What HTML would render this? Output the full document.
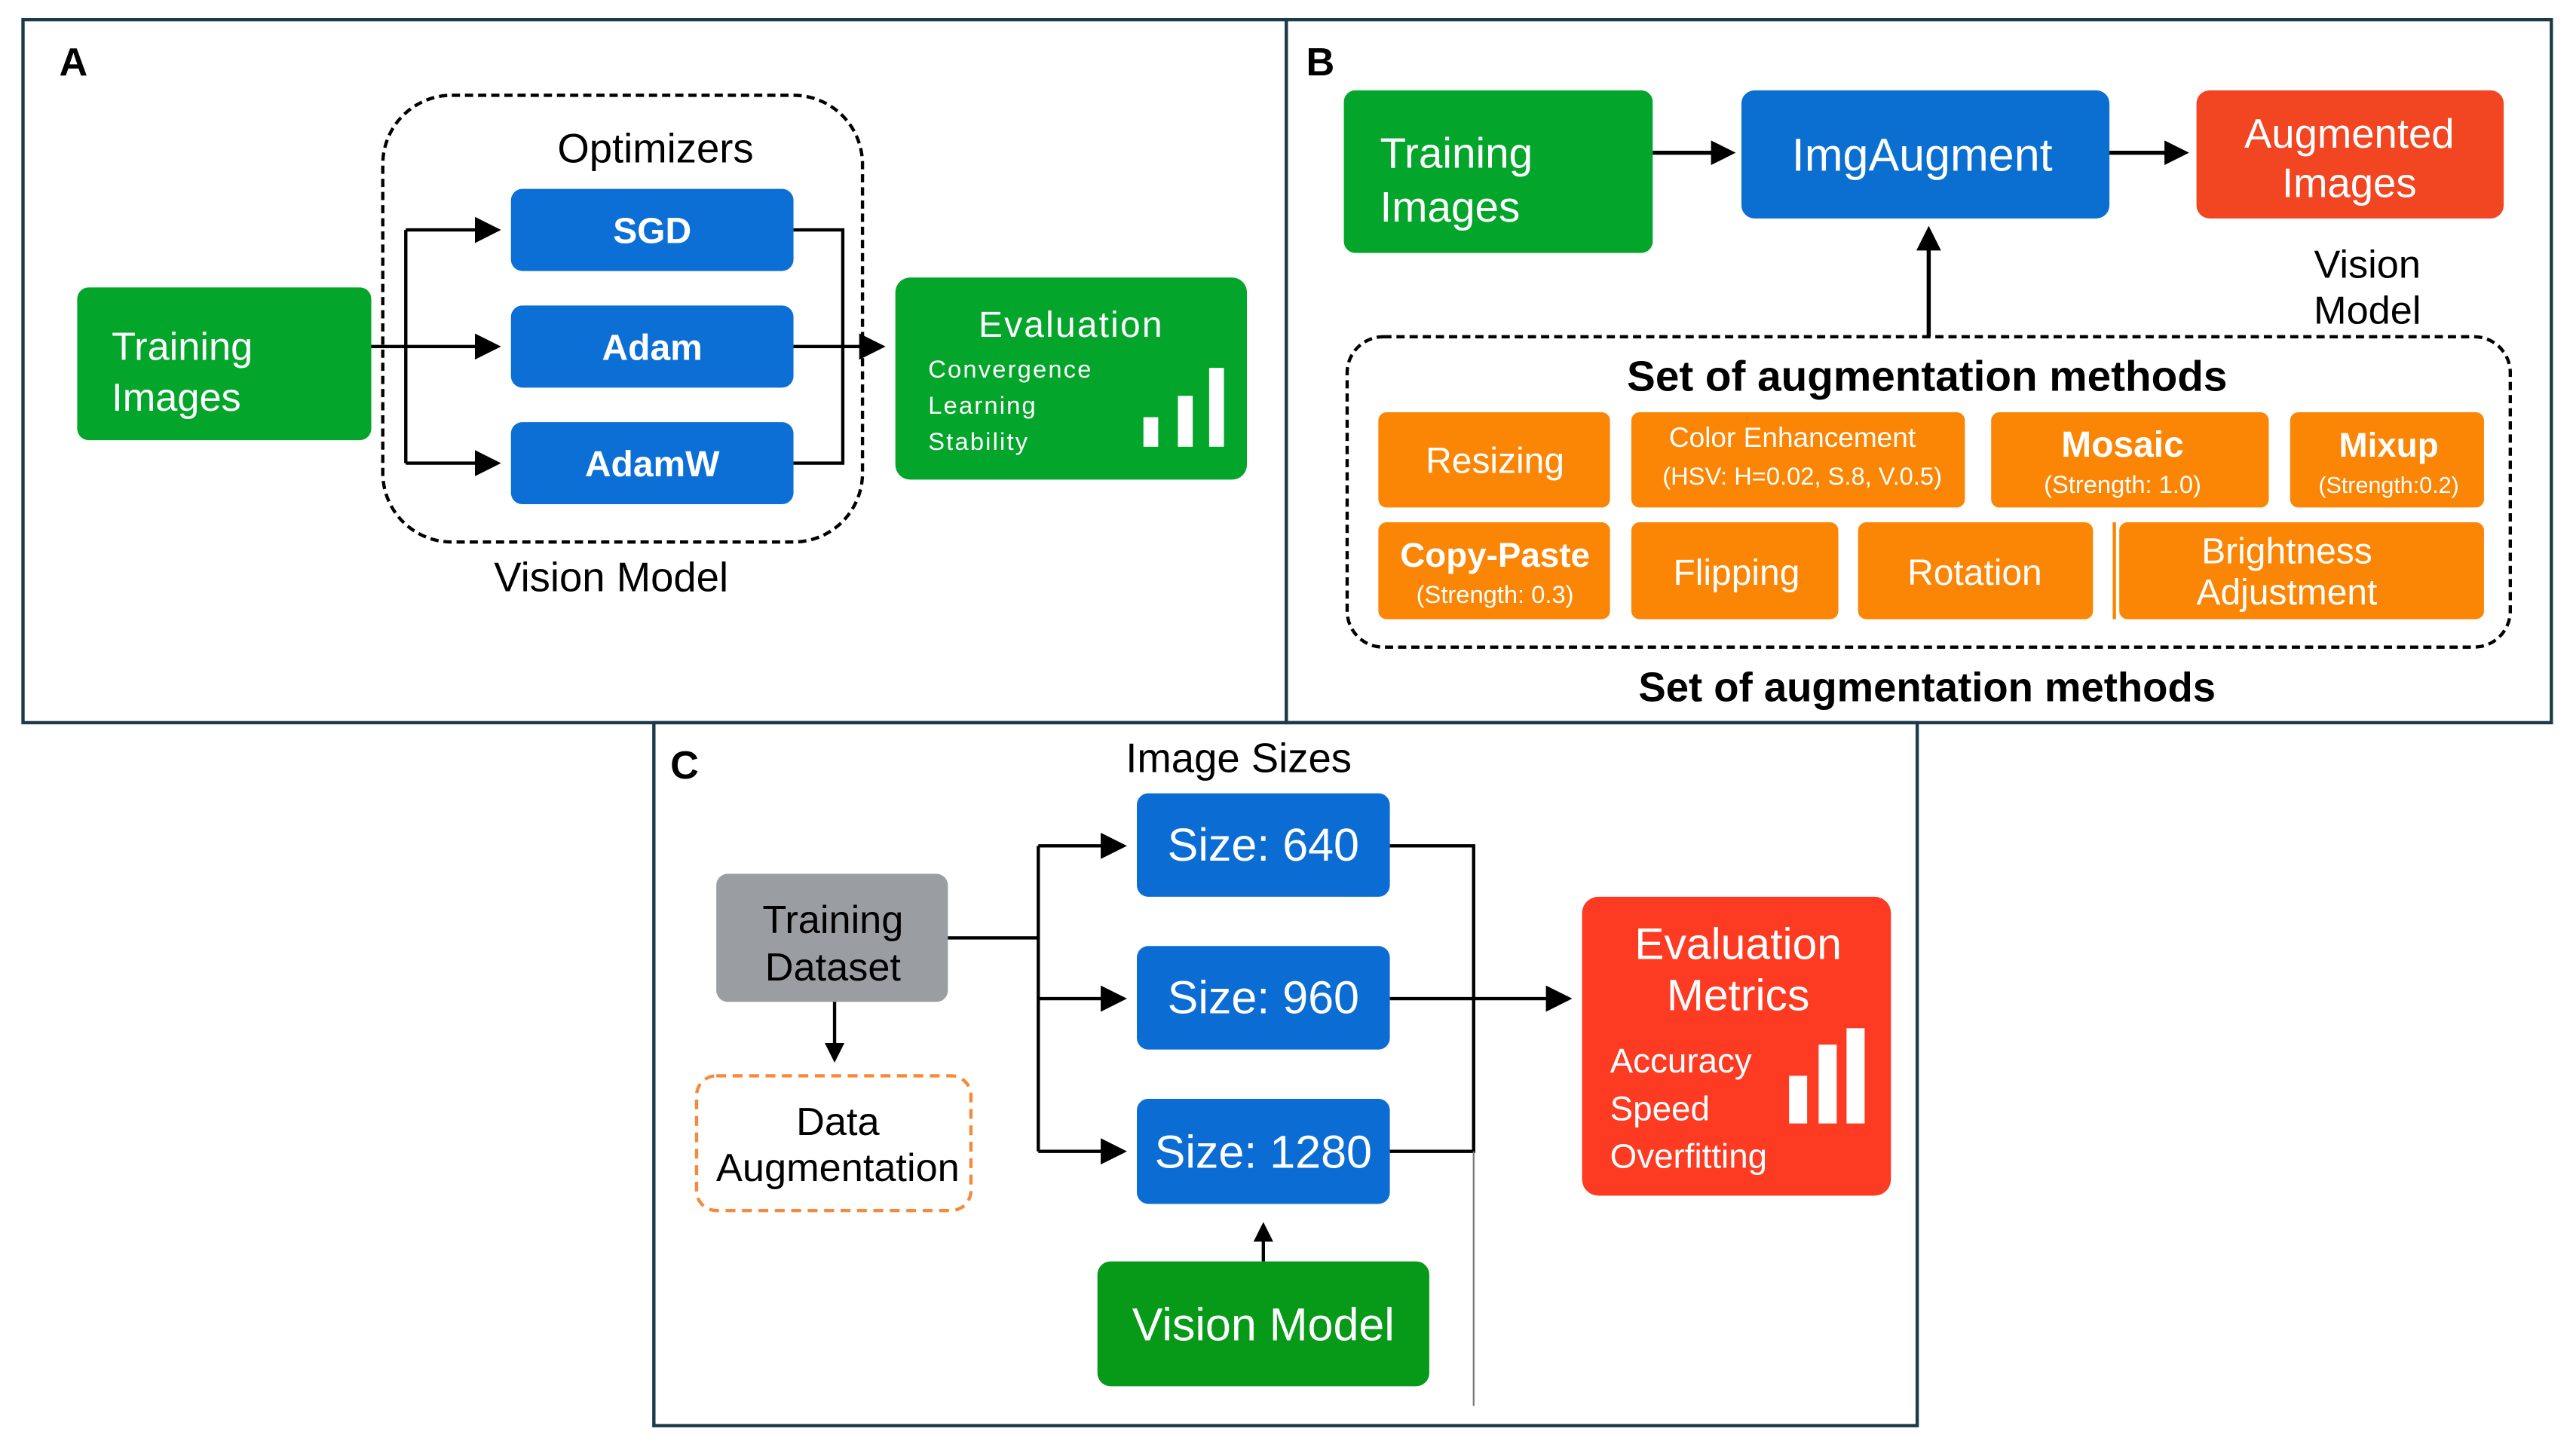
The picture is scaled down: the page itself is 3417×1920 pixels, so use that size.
<!DOCTYPE html>
<html><head><meta charset="utf-8"><style>
html,body{margin:0;padding:0;background:#fff;}
svg{display:block;}
text{font-family:"Liberation Sans",sans-serif;}
</style></head><body>
<svg width="3417" height="1920" viewBox="0 0 1568 881" preserveAspectRatio="none" xmlns="http://www.w3.org/2000/svg">
<defs>
<marker id="ar" markerWidth="6" markerHeight="6" refX="5" refY="3" orient="auto" markerUnits="strokeWidth"><path d="M0,0 L6,3 L0,6 z" fill="#000"/></marker>
<marker id="ar2" markerWidth="8" markerHeight="8" refX="7" refY="4" orient="auto" markerUnits="strokeWidth"><path d="M0,0 L8,4 L0,8 z" fill="#000"/></marker>
</defs>
<rect width="1568" height="881" fill="#fff"/>
<g fill="none" stroke="#1d3a4a" stroke-width="2">
<rect x="14" y="12" width="769" height="428"/>
<rect x="783" y="12" width="770" height="428"/>
<rect x="398" y="440" width="769" height="428"/>
</g>

<!-- PANEL A -->
<text x="36" y="46" font-size="24" font-weight="bold">A</text>
<rect x="233" y="58" width="292" height="272" rx="42" fill="none" stroke="#000" stroke-width="2" stroke-dasharray="5,3"/>
<text x="399" y="99" font-size="25" text-anchor="middle">Optimizers</text>
<g fill="#0b6fd6">
<rect x="311" y="115" width="172" height="50" rx="7"/>
<rect x="311" y="186" width="172" height="50" rx="7"/>
<rect x="311" y="257" width="172" height="50" rx="7"/>
</g>
<g fill="#fff" font-size="22" font-weight="bold" text-anchor="middle">
<text x="397" y="148">SGD</text>
<text x="397" y="219">Adam</text>
<text x="397" y="290">AdamW</text>
</g>
<rect x="47" y="175" width="179" height="93" rx="7" fill="#03a62b"/>
<text x="68" y="219" font-size="24" fill="#fff">Training</text>
<text x="68" y="250" font-size="24" fill="#fff">Images</text>
<rect x="545" y="169" width="214" height="123" rx="9" fill="#03a62b"/>
<text x="652" y="205" font-size="22" fill="#fff" text-anchor="middle" letter-spacing="1">Evaluation</text>
<g fill="#fff" font-size="15" letter-spacing="1"><text x="565" y="230">Convergence</text><text x="565" y="252">Learning</text><text x="565" y="274">Stability</text></g>
<g fill="#fff"><rect x="696" y="254" width="9" height="18"/><rect x="717" y="241" width="9" height="31"/><rect x="736" y="224" width="9" height="48"/></g>
<g stroke="#000" stroke-width="2" fill="none">
<path d="M226,211 H303" marker-end="url(#ar2)"/>
<path d="M247,140 V282"/>
<path d="M247,140 H303" marker-end="url(#ar2)"/>
<path d="M247,282 H303" marker-end="url(#ar2)"/>
<path d="M483,140 H513 V282 H483"/>
<path d="M483,211 H537" marker-end="url(#ar2)"/>
</g>
<text x="372" y="360" font-size="25" text-anchor="middle">Vision Model</text>

<!-- PANEL B -->
<text x="795" y="46" font-size="24" font-weight="bold">B</text>
<rect x="818" y="55" width="188" height="99" rx="7" fill="#03a62b"/>
<text x="840" y="102" font-size="26" fill="#fff">Training</text>
<text x="840" y="135" font-size="26" fill="#fff">Images</text>
<rect x="1060" y="55" width="224" height="78" rx="8" fill="#0a6fd0"/>
<text x="1170" y="104" font-size="28" fill="#fff" text-anchor="middle">ImgAugment</text>
<rect x="1337" y="55" width="187" height="78" rx="8" fill="#f24522"/>
<text x="1430" y="90" font-size="25" fill="#fff" text-anchor="middle">Augmented</text>
<text x="1430" y="120" font-size="25" fill="#fff" text-anchor="middle">Images</text>
<g stroke="#000" stroke-width="2.5" fill="none">
<path d="M1006,93 H1054" marker-end="url(#ar)"/>
<path d="M1284,93 H1330" marker-end="url(#ar)"/>
<path d="M1174,205 V140" marker-end="url(#ar)"/>
</g>
<text x="1441" y="169" font-size="24" text-anchor="middle">Vision</text>
<text x="1441" y="197" font-size="24" text-anchor="middle">Model</text>
<rect x="820" y="205" width="708" height="189" rx="22" fill="none" stroke="#000" stroke-width="2" stroke-dasharray="5,3"/>
<text x="1173" y="238" font-size="26" font-weight="bold" text-anchor="middle">Set of augmentation methods</text>
<g fill="#fb8505">
<rect x="839" y="251" width="141" height="58" rx="5"/>
<rect x="993" y="251" width="203" height="58" rx="5"/>
<rect x="1212" y="251" width="169" height="58" rx="5"/>
<rect x="1394" y="251" width="118" height="58" rx="5"/>
<rect x="839" y="318" width="141" height="59" rx="5"/>
<rect x="993" y="318" width="126" height="59" rx="5"/>
<rect x="1131" y="318" width="143" height="59" rx="5"/>
<rect x="1290" y="318" width="222" height="59" rx="5"/>
</g>
<line x1="1287" y1="318" x2="1287" y2="377" stroke="#fb8505" stroke-width="2"/>
<g fill="#fff" text-anchor="middle">
<text x="910" y="288" font-size="22">Resizing</text>
<text x="1091" y="272" font-size="17">Color Enhancement</text>
<text x="1097" y="295" font-size="15">(HSV: H=0.02, S.8, V.0.5)</text>
<text x="1292" y="278" font-size="22" font-weight="bold">Mosaic</text>
<text x="1292" y="300" font-size="15">(Strength: 1.0)</text>
<text x="1454" y="278" font-size="21" font-weight="bold">Mixup</text>
<text x="1454" y="300" font-size="14">(Strength:0.2)</text>
<text x="910" y="345" font-size="21" font-weight="bold">Copy-Paste</text>
<text x="910" y="367" font-size="15">(Strength: 0.3)</text>
<text x="1057" y="356" font-size="22">Flipping</text>
<text x="1202" y="356" font-size="22">Rotation</text>
<text x="1392" y="343" font-size="22">Brightness</text>
<text x="1392" y="368" font-size="22">Adjustment</text>
</g>
<text x="1173" y="427" font-size="25" font-weight="bold" text-anchor="middle">Set of augmentation methods</text>

<!-- PANEL C -->
<text x="408" y="474" font-size="24" font-weight="bold">C</text>
<text x="754" y="470" font-size="25" text-anchor="middle">Image Sizes</text>
<g fill="#0b6dd4">
<rect x="692" y="483" width="154" height="63" rx="7"/>
<rect x="692" y="576" width="154" height="63" rx="7"/>
<rect x="692" y="669" width="154" height="64" rx="7"/>
</g>
<g fill="#fff" font-size="28" text-anchor="middle">
<text x="769" y="524">Size: 640</text>
<text x="769" y="617">Size: 960</text>
<text x="769" y="711">Size: 1280</text>
</g>
<rect x="436" y="532" width="141" height="78" rx="7" fill="#9a9ea3"/>
<text x="507" y="568" font-size="24" text-anchor="middle">Training</text>
<text x="507" y="597" font-size="24" text-anchor="middle">Dataset</text>
<rect x="424" y="655" width="167" height="82" rx="12" fill="none" stroke="#f58a3c" stroke-width="2" stroke-dasharray="6,4"/>
<text x="510" y="691" font-size="24" text-anchor="middle">Data</text>
<text x="510" y="719" font-size="24" text-anchor="middle">Augmentation</text>
<g stroke="#000" stroke-width="2" fill="none">
<path d="M508,610 V645" marker-end="url(#ar)"/>
<path d="M577,571 H632"/>
<path d="M632,515 V701"/>
<path d="M632,515 H684" marker-end="url(#ar2)"/>
<path d="M632,608 H684" marker-end="url(#ar2)"/>
<path d="M632,701 H684" marker-end="url(#ar2)"/>
<path d="M846,515 H897 V701 H846"/>
<path d="M846,608 H955" marker-end="url(#ar2)"/>
<path d="M769,768 V746" marker-end="url(#ar)"/>
</g>
<line x1="897" y1="701" x2="897" y2="856" stroke="#777" stroke-width="1"/>
<rect x="963" y="546" width="188" height="182" rx="10" fill="#fd3a22"/>
<text x="1058" y="584" font-size="27" fill="#fff" text-anchor="middle">Evaluation</text>
<text x="1058" y="615" font-size="27" fill="#fff" text-anchor="middle">Metrics</text>
<g fill="#fff" font-size="21"><text x="980" y="653">Accuracy</text><text x="980" y="682">Speed</text><text x="980" y="711">Overfitting</text></g>
<g fill="#fff"><rect x="1089" y="655" width="11" height="29"/><rect x="1107" y="636" width="11" height="48"/><rect x="1124" y="626" width="11" height="58"/></g>
<rect x="668" y="768" width="202" height="76" rx="8" fill="#069a18"/>
<text x="769" y="816" font-size="28" fill="#fff" text-anchor="middle">Vision Model</text>
</svg>
</body></html>
